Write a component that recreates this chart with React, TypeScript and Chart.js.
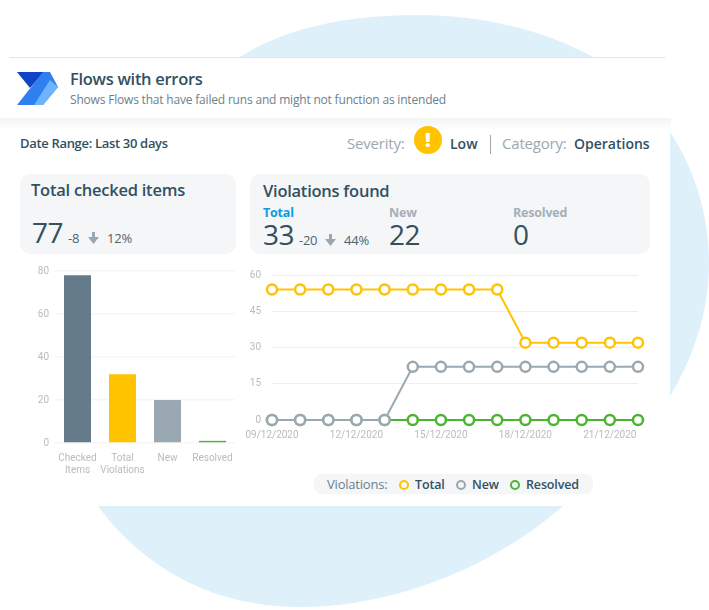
import React, { useEffect, useRef } from "react";
import { Chart, registerables } from "chart.js";

Chart.register(...registerables);

const barLabels = [["Checked", "Items"], ["Total", "Violations"], ["New"], ["Resolved"]];
const barValues = [78, 32, 20, 1];
const barColors = ["#657b89", "#ffc300", "#9aa8b2", "#4cb52f"];

const dates = ["09/12/2020","10/12/2020","11/12/2020","12/12/2020","13/12/2020","14/12/2020","15/12/2020","16/12/2020","17/12/2020","18/12/2020","19/12/2020","20/12/2020","21/12/2020","22/12/2020"];
const totalSeries = [54,54,54,54,54,54,54,54,54,32,32,32,32,32];
const newSeries = [0,0,0,0,0,22,22,22,22,22,22,22,22,22];
const resolvedSeries = [0,0,0,0,0,0,0,0,0,0,0,0,0,0];

const sans = '"Open Sans", "Noto Sans", sans-serif';
const dark = "#33505f";

function T(p: { x: number; y: number; s: number; c?: string; w?: number; t: string; ls?: number }) {
  return (
    <div style={{ position: "absolute", left: p.x, top: p.y, fontSize: p.s, lineHeight: "1", color: p.c || dark, fontWeight: p.w || 400, whiteSpace: "nowrap", letterSpacing: p.ls ?? 0, fontFamily: sans }}>{p.t}</div>
  );
}

export default function App() {
  const barRef = useRef<HTMLCanvasElement>(null);
  const lineRef = useRef<HTMLCanvasElement>(null);

  useEffect(() => {
    const bar = new Chart(barRef.current!, {
      type: "bar",
      data: { labels: barLabels, datasets: [{ data: barValues, backgroundColor: barColors, barPercentage: 0.6, categoryPercentage: 1 }] },
      options: {
        animation: false, responsive: false,
        layout: { padding: { left: 0, right: 0, top: 5, bottom: 0 } },
        plugins: { legend: { display: false }, tooltip: { enabled: false } },
        scales: {
          x: { afterFit: (s: any) => { s.height = 38; s.paddingLeft = 0; s.paddingRight = 0; }, grid: { display: false }, border: { display: false }, ticks: { autoSkip: false, color: "#bbb", font: { family: "Roboto", size: 10 }, maxRotation: 0, padding: 1 } },
          y: { min: 0, max: 80, afterFit: (s: any) => { s.width = 35; s.paddingTop = 0; s.paddingBottom = 0; }, grid: { color: "#f6f6f6", lineWidth: 1.5, drawTicks: false }, border: { display: false }, ticks: { stepSize: 20, color: "#bbb", font: { family: "Roboto", size: 10 }, padding: 6 } },
        },
      },
    });
    const ds = (label: string, data: number[], color: string) => ({
      label, data, borderColor: color, backgroundColor: "#fff", pointBackgroundColor: "#fff", pointBorderColor: color,
      pointRadius: 5, pointBorderWidth: 2.5, borderWidth: 2, tension: 0, clip: false as const,
    });
    const line = new Chart(lineRef.current!, {
      type: "line",
      data: { labels: dates, datasets: [ds("Total", totalSeries, "#ffc300"), ds("New", newSeries, "#9aa8b2"), ds("Resolved", resolvedSeries, "#4cb52f")].map((d, i) => ({ ...d, order: i === 2 ? 3 : i })) },
      options: {
        animation: false, responsive: false,
        plugins: { legend: { display: false }, tooltip: { enabled: false } },
        layout: { autoPadding: false, padding: { top: 5, right: 14, left: 0, bottom: 0 } },
        scales: {
          x: { grid: { display: false }, border: { display: false }, afterFit: (s: any) => { s.height = 50; s.paddingLeft = 0; s.paddingRight = 0; }, ticks: { autoSkip: false, maxRotation: 0, color: "#bbb", font: { family: "Roboto", size: 10 }, padding: 1, callback: (_v: any, i: number) => (i % 3 === 0 ? dates[i] : "") } },
          y: { min: 0, max: 60, afterFit: (s: any) => { s.width = 32; s.paddingTop = 0; s.paddingBottom = 0; }, grid: { color: "#eeeeee", drawTicks: false }, border: { display: false }, ticks: { stepSize: 15, color: "#bbb", font: { family: "Roboto", size: 10 }, padding: 11 } },
        },
      },
    });
    return () => { bar.destroy(); line.destroy(); };
  }, []);

  const arrow = "M5 1 H8 V6 H12 L6.5 13 L1 6 H5 Z";

  return (
    <div style={{ position: "fixed", left: 0, top: 0, width: 709, height: 610, overflow: "hidden", background: "#fff", fontFamily: sans }}>
      <svg width={709} height={610} style={{ position: "absolute", left: 0, top: 0 }}>
        <path fill="#def0fa" d="M240 57 C290 25 355 15 418 15 C480 15 545 30 593 57 C625 78 650 105 670 132 C695 170 709 215 709 262 C709 310 695 355 670 396 L670 506 L563 506 C490 570 390 607 300 607 C215 607 145 570 98 506 Z" />
      </svg>
      <div style={{ position: "absolute", left: 8, top: 57, width: 662, height: 449, background: "#fff" }} />
      <div style={{ position: "absolute", left: 0, top: 118, width: 671, height: 12, background: "linear-gradient(#f2f4f6, #ffffff)" }} />
      <div style={{ position: "absolute", left: 9, top: 57, width: 656, height: 1, background: "#e2e4e6" }} />
      <svg width={709} height={120} style={{ position: "absolute", left: 0, top: 0 }}>
        <path fill="#0f45c4" d="M17 72 L44 72 L30 88 Z" />
        <path fill="#2f80ee" d="M17 105 L43 72 L50 72 L58 87 L43 105 Z" />
        <path fill="#6db4ff" d="M34 105 L50 80 L58 87 L43 105 Z" />
      </svg>
      <T x={70} y={71} s={16.5} w={600} t="Flows with errors" ls={-0.3} />
      <T x={70} y={94} s={12} c="#6c7f8c" t="Shows Flows that have failed runs and might not function as intended" ls={-0.19} />
      <T x={20} y={137} s={13} w={600} t="Date Range: Last 30 days" ls={-0.32} />
      <T x={347} y={136} s={15} c="#9aa8b2" t="Severity:" ls={-0.2} />
      <div style={{ position: "absolute", left: 414, top: 126, width: 28, height: 28, borderRadius: 14, background: "#ffc300", color: "#fff", textAlign: "center", fontSize: 20, lineHeight: "28px", fontWeight: 800 }}>!</div>
      <T x={450} y={137} s={14} w={600} t="Low" />
      <div style={{ position: "absolute", left: 490, top: 135, width: 1, height: 19, background: "#9aa8b2" }} />
      <T x={502} y={136} s={15} c="#9aa8b2" t="Category:" ls={-0.2} />
      <T x={574} y={137} s={14} w={600} t="Operations" />

      <div style={{ position: "absolute", left: 20, top: 174, width: 216, height: 80, borderRadius: 10, background: "#f4f6f8" }} />
      <T x={31} y={182} s={16.5} w={600} t="Total checked items" ls={-0.25} />
      <T x={32} y={218} s={28} t="77" ls={-0.5} />
      <T x={68} y={232} s={13} c="#50646f" t="-8" ls={-0.3} />
      <svg width={14} height={14} style={{ position: "absolute", left: 87, top: 231 }}><path fill="#9aa8b2" d={arrow} /></svg>
      <T x={107} y={232} s={13} c="#50646f" t="12%" ls={-0.2} />

      <div style={{ position: "absolute", left: 250, top: 174, width: 400, height: 80, borderRadius: 10, background: "#f4f6f8" }} />
      <T x={263} y={183} s={16.5} w={600} t="Violations found" ls={-0.25} />
      <T x={263} y={207} s={12.5} w={700} c="#0f9ae0" t="Total" ls={-0.2} />
      <T x={263} y={220} s={28} t="33" ls={-0.5} />
      <T x={299} y={234} s={13} c="#50646f" t="-20" ls={-0.3} />
      <svg width={14} height={14} style={{ position: "absolute", left: 324, top: 233 }}><path fill="#9aa8b2" d={arrow} /></svg>
      <T x={344} y={234} s={13} c="#50646f" t="44%" ls={-0.2} />
      <T x={389} y={207} s={12.5} w={700} c="#a3b0b9" t="New" ls={-0.2} />
      <T x={389} y={220} s={28} t="22" ls={-0.5} />
      <T x={513} y={207} s={12.5} w={700} c="#a3b0b9" t="Resolved" ls={-0.2} />
      <T x={513} y={220} s={28} t="0" />

      <canvas ref={barRef} width={215} height={215} style={{ position: "absolute", left: 20, top: 266 }} />
      <canvas ref={lineRef} width={412} height={200} style={{ position: "absolute", left: 240, top: 270 }} />

      <div style={{ position: "absolute", left: 314, top: 474, width: 279, height: 20, borderRadius: 8, background: "#f4f6f8" }} />
      <T x={327} y={478} s={13} c="#6c7f8c" t="Violations:" ls={-0.2} />
      <div style={{ position: "absolute", left: 399, top: 480, width: 6, height: 6, border: "2px solid #ffc300", borderRadius: 6 }} />
      <T x={415} y={479} s={12.5} w={600} t="Total" ls={-0.15} />
      <div style={{ position: "absolute", left: 456, top: 480, width: 6, height: 6, border: "2px solid #9aa8b2", borderRadius: 6 }} />
      <T x={472} y={479} s={12.5} w={600} t="New" ls={-0.15} />
      <div style={{ position: "absolute", left: 510, top: 480, width: 6, height: 6, border: "2px solid #4cb52f", borderRadius: 6 }} />
      <T x={526} y={479} s={12.5} w={600} t="Resolved" ls={-0.15} />
    </div>
  );
}
